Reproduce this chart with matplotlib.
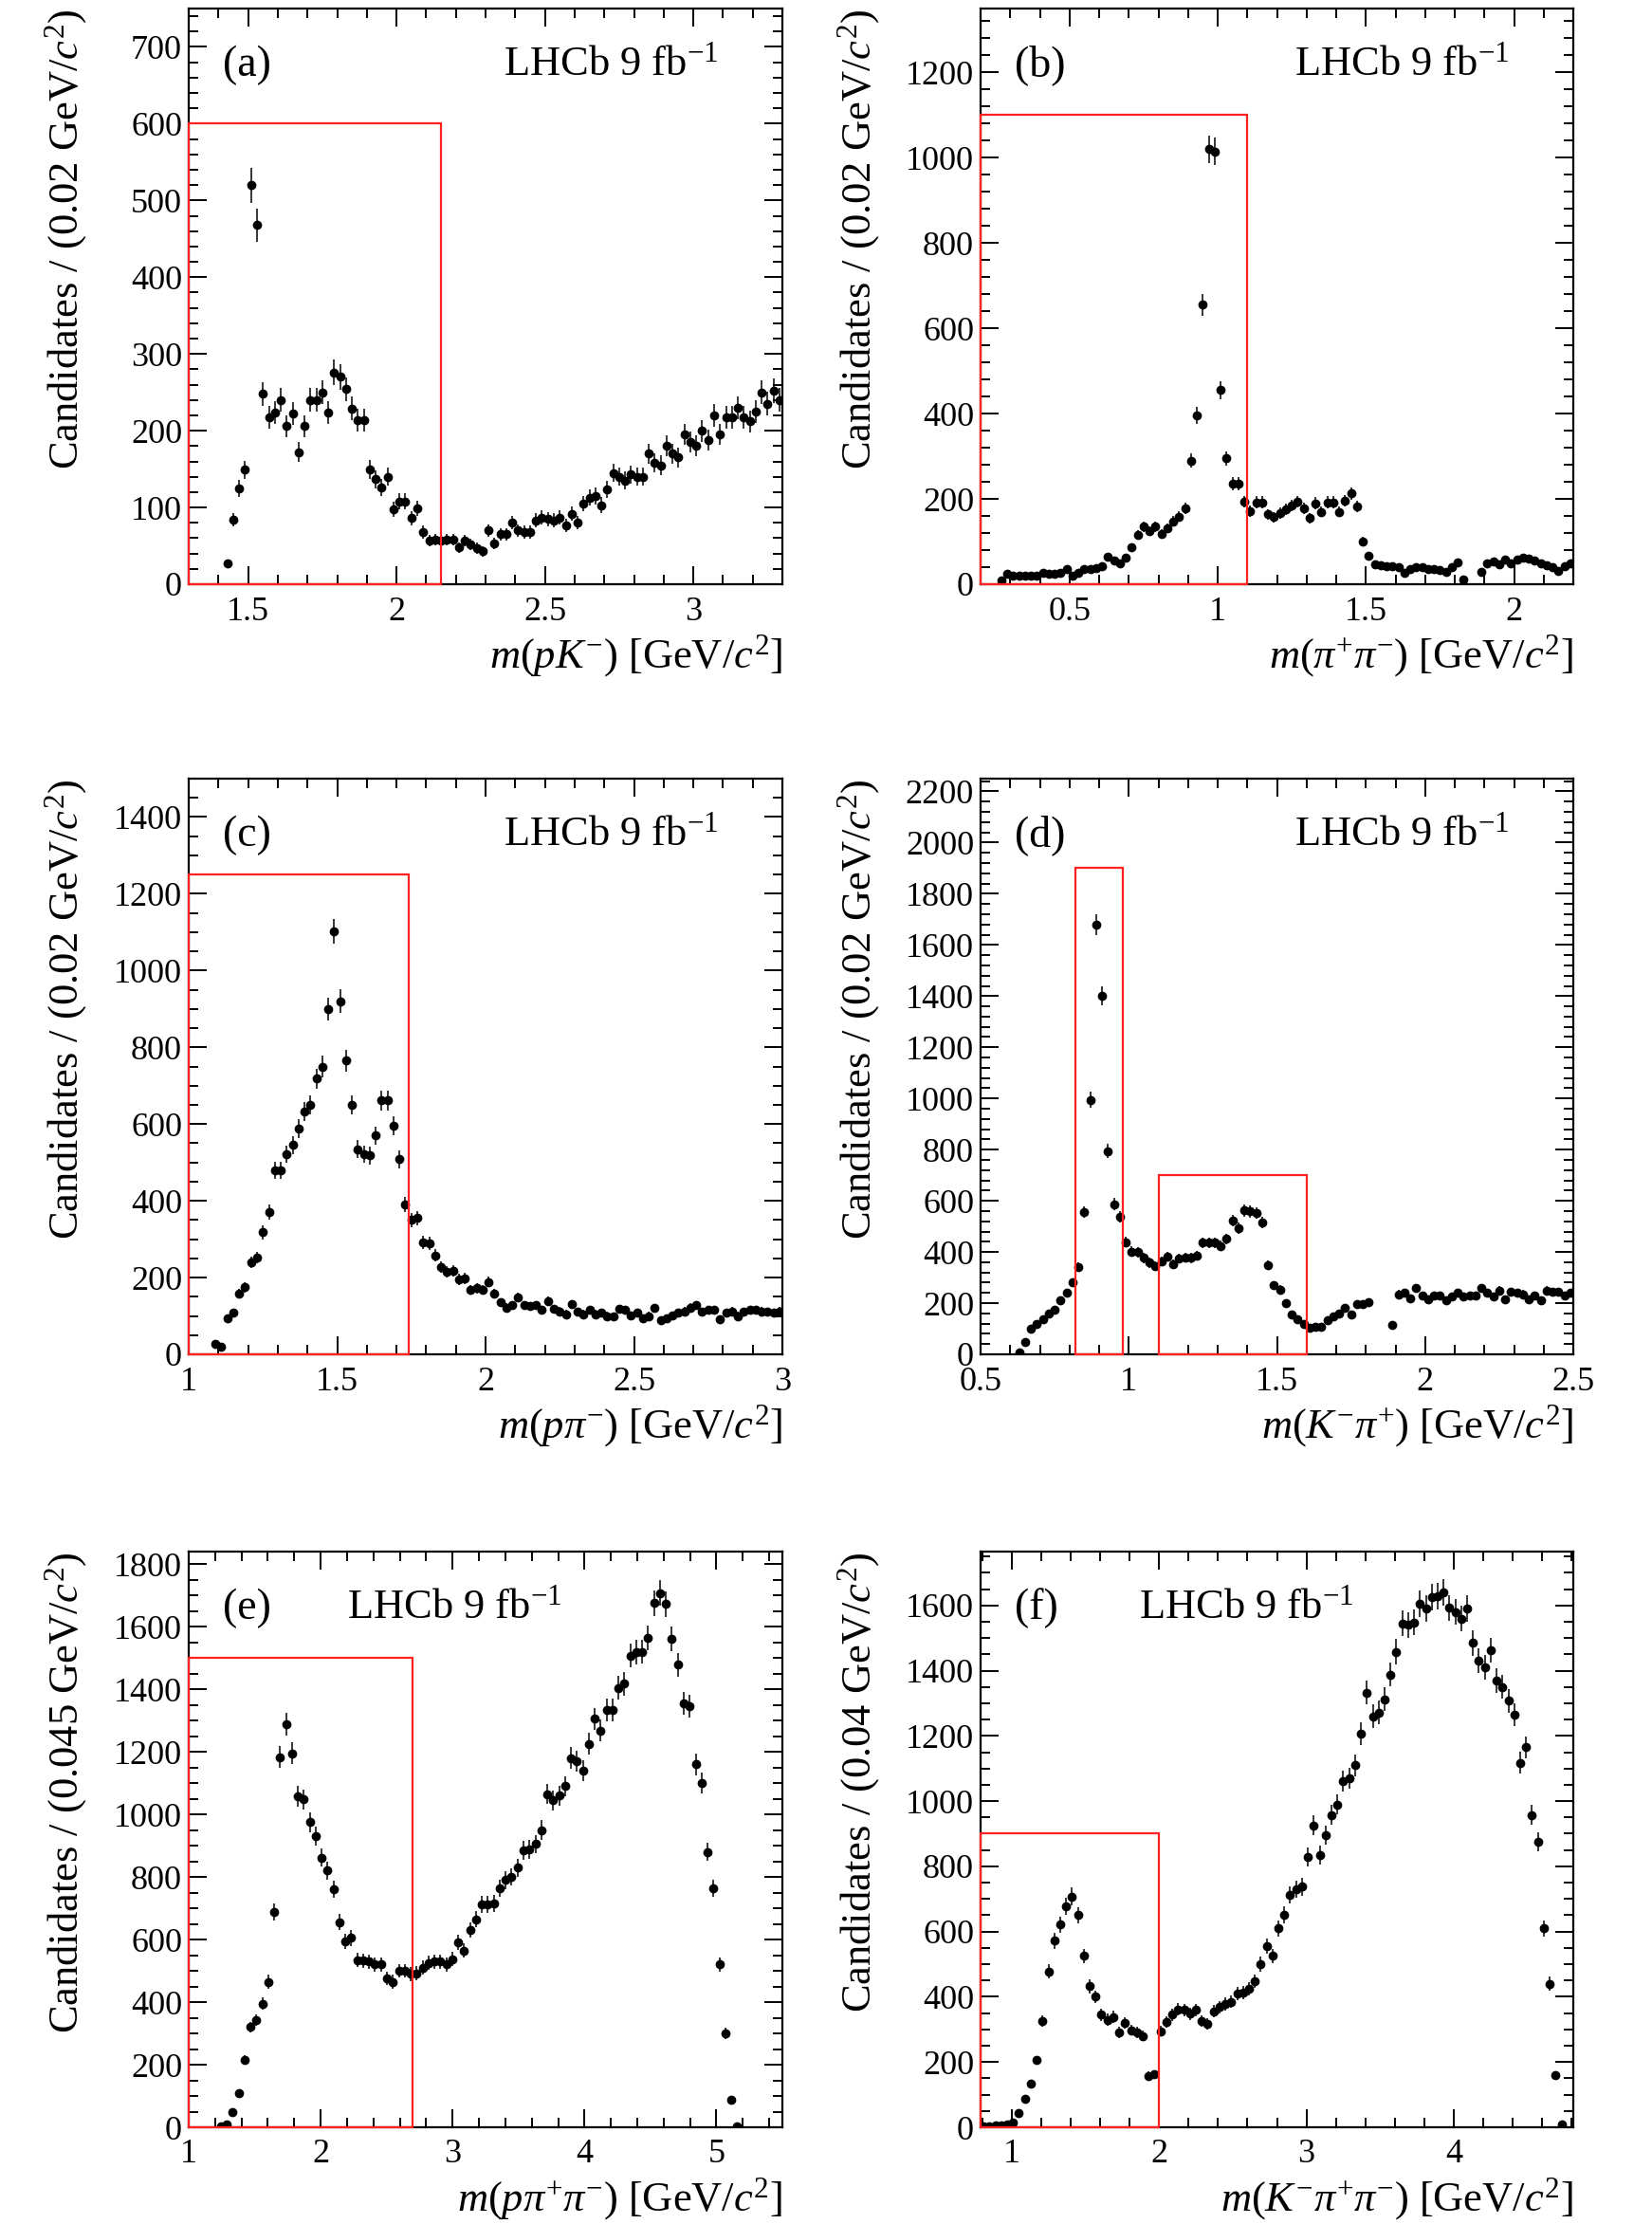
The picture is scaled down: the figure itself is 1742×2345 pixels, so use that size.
import numpy as np
import matplotlib
matplotlib.use('Agg')
import matplotlib.pyplot as plt
from matplotlib.patches import Rectangle
from matplotlib.ticker import MultipleLocator, FuncFormatter

plt.rcParams['font.family'] = ['Liberation Serif', 'DejaVu Serif']
plt.rcParams['mathtext.fontset'] = 'custom'
plt.rcParams['mathtext.rm'] = 'Liberation Serif'
plt.rcParams['mathtext.it'] = 'Liberation Serif:italic'
plt.rcParams['mathtext.bf'] = 'Liberation Serif:bold'

nan = np.nan

# ---------------- data ----------------
# (a) m(pK-)
a_start, a_width = 1.43, 0.02
a_counts = [27, 84, 125, 149, 520, 468, 248, 217, 224, 240,
            206, 222, 172, 206, 240, 240, 250, 224, 276, 270,
            254, 229, 214, 214, 150, 137, 126, 140, 98, 108,
            108, 86, 99, 68, 57, 58, 57, 58, 58, 48,
            57, 52, 47, 43, 70, 53, 65, 65, 80, 70,
            68, 68, 83, 87, 85, 83, 87, 77, 92, 80,
            105, 113, 115, 103, 123, 145, 140, 135, 143, 140,
            140, 170, 158, 155, 180, 170, 165, 195, 185, 180,
            200, 188, 220, 195, 218, 218, 230, 218, 212, 225,
            250, 235, 252, 240]

# (b) m(pi+pi-)
b_start, b_width = 0.27, 0.02
b_counts = [9, 24, 19, 19, 20, 20, 21, 27, 24, 25,
            27, 35, 20, 27, 35, 36, 38, 42, 64, 56,
            48, 63, 87, 115, 135, 124, 135, 118, 131, 147,
            159, 179, 290, 395, 655, 1020, 1015, 455, 295, 235,
            235, 194, 172, 192, 192, 164, 157, 167, 176, 184,
            194, 179, 155, 190, 170, 192, 192, 170, 196, 213,
            183, 101, 67, 46, 44, 42, 42, 39, 26, 35,
            39, 39, 36, 35, 33, 29, 39, 51, 11, nan,
            nan, 29, 50, 53, 46, 57, 50, 57, 63, 59,
            56, 50, 44, 41, 31, 42, 48]

# (c) m(p pi-)
c_start, c_width = 1.09, 0.02
c_counts = [28, 20, 95, 108, 158, 175, 240, 252, 318, 370,
            480, 480, 522, 545, 588, 632, 650, 718, 750, 900,
            1102, 920, 765, 650, 535, 522, 518, 570, 662, 662,
            595, 508, 390, 350, 355, 292, 290, 258, 228, 215,
            218, 195, 198, 168, 172, 168, 188, 158, 135, 122,
            128, 148, 128, 125, 128, 115, 138, 118, 112, 105,
            130, 110, 105, 115, 105, 108, 100, 98, 118, 115,
            102, 108, 95, 100, 120, 88, 95, 102, 108, 112,
            122, 128, 110, 115, 115, 92, 108, 112, 100, 110,
            115, 115, 112, 110, 108, 112]

# (d) m(K- pi+)
d_start, d_width = 0.63, 0.02
d_counts = [9, 47, 99, 117, 138, 158, 175, 211, 241, 280,
            340, 556, 995, 1680, 1400, 794, 586, 537, 438, 401,
            399, 377, 358, 346, 364, 381, 352, 374, 379, 377,
            385, 436, 436, 436, 423, 451, 522, 493, 562, 559,
            552, 516, 349, 270, 253, 199, 154, 136, 120, 105,
            107, 109, 135, 148, 160, 181, 154, 198, 198, 205,
            nan, nan, nan, 115, 235, 240, 220, 260, 230, 215,
            230, 230, 210, 225, 240, 225, 230, 230, 260, 240,
            225, 250, 215, 245, 240, 235, 215, 230, 210, 250,
            245, 245, 230, 240]

# (e) m(p pi+ pi-)
e_start, e_width = 1.2425, 0.045
e_counts = [3, 8, 48, 110, 215, 320, 342, 395, 465, 688,
            1183, 1288, 1195, 1058, 1048, 975, 930, 862, 820, 760,
            655, 595, 605, 535, 532, 530, 520, 520, 475, 465,
            500, 500, 490, 492, 510, 525, 530, 530, 520, 538,
            592, 565, 630, 665, 712, 712, 715, 765, 790, 800,
            830, 885, 888, 905, 950, 1065, 1045, 1060, 1090, 1180,
            1170, 1140, 1225, 1305, 1268, 1335, 1335, 1405, 1418, 1508,
            1518, 1520, 1565, 1675, 1708, 1672, 1560, 1478, 1355, 1345,
            1160, 1100, 880, 765, 520, 300, 88, 2]

# (f) m(K- pi+ pi-)
f_start, f_width = 0.81, 0.04
f_counts = [2, 2, 5, 5, 10, 15, 45, 88, 135, 205,
            325, 478, 572, 622, 678, 708, 650, 525, 432, 400,
            345, 330, 338, 290, 320, 298, 290, 280, 158, 162,
            295, 322, 345, 362, 360, 348, 360, 325, 318, 355,
            368, 378, 385, 410, 412, 425, 448, 500, 555, 525,
            610, 652, 712, 730, 738, 828, 925, 835, 895, 958,
            990, 1062, 1070, 1110, 1208, 1332, 1260, 1272, 1312, 1388,
            1458, 1545, 1540, 1548, 1605, 1590, 1625, 1628, 1640, 1592,
            1580, 1560, 1590, 1485, 1430, 1410, 1462, 1370, 1350, 1308,
            1265, 1118, 1165, 958, 875, 610, 440, 160, 8]

panel_tags = ['(a)', '(b)', '(c)', '(d)', '(e)', '(f)']
x_titles = [r'$m(pK^{-})$ [GeV/$c^{2}$]',
            r'$m(\pi^{+}\pi^{-})$ [GeV/$c^{2}$]',
            r'$m(p\pi^{-})$ [GeV/$c^{2}$]',
            r'$m(K^{-}\pi^{+})$ [GeV/$c^{2}$]',
            r'$m(p\pi^{+}\pi^{-})$ [GeV/$c^{2}$]',
            r'$m(K^{-}\pi^{+}\pi^{-})$ [GeV/$c^{2}$]']
y_titles = [r'Candidates / (0.02 GeV/$c^{2}$)',
            r'Candidates / (0.02 GeV/$c^{2}$)',
            r'Candidates / (0.02 GeV/$c^{2}$)',
            r'Candidates / (0.02 GeV/$c^{2}$)',
            r'Candidates / (0.045 GeV/$c^{2}$)',
            r'Candidates / (0.04 GeV/$c^{2}$)']
x_ranges = [(1.3, 3.3), (0.2, 2.2), (1.0, 3.0), (0.5, 2.5), (1.0, 5.5), (0.79, 4.81)]
y_ranges = [(0, 750), (0, 1350), (0, 1500), (0, 2250), (0, 1840), (0, 1765)]
x_major = [0.5, 0.5, 0.5, 0.5, 1.0, 1.0]
x_minor = [0.1, 0.1, 0.1, 0.1, 0.2, 0.2]
y_major = [100, 200, 200, 200, 200, 200]
y_minor = [20, 40, 50, 40, 50, 50]
# selection boxes (x0, x1, ytop)
boxes = [[(1.3, 2.15, 600)],
         [(0.2, 1.1, 1100)],
         [(1.0, 1.74, 1250)],
         [(0.82, 0.98, 1900), (1.1, 1.6, 700)],
         [(1.0, 2.7, 1500)],
         [(0.79, 2.0, 900)]]
lumi_text = r'LHCb 9 fb$^{-1}$'

datasets = [(a_start, a_width, a_counts), (b_start, b_width, b_counts),
            (c_start, c_width, c_counts), (d_start, d_width, d_counts),
            (e_start, e_width, e_counts), (f_start, f_width, f_counts)]

# ---------------- layout ----------------
W, H = 1742, 2345
fig = plt.figure(figsize=(W / 100, H / 100), dpi=100)
cols = [(199, 825), (1034, 1659)]
rows = [(9, 616), (821, 1428), (1636, 2243)]

fmt = FuncFormatter(lambda v, p: f'{v:g}')

for i in range(6):
    r, c = divmod(i, 2)
    (xl, xr), (yt, yb) = cols[c], rows[r]
    ax = fig.add_axes([xl / W, 1 - yb / H, (xr - xl) / W, (yb - yt) / H])
    start, width, counts = datasets[i]
    y = np.array(counts, dtype=float)
    x = start + width * np.arange(len(y))
    err = np.sqrt(y)
    ax.errorbar(x, y, yerr=err, fmt='o', ms=6.0, color='black',
                ecolor='black', elinewidth=1.1, capsize=0, zorder=3)
    ax.set_xlim(*x_ranges[i])
    ax.set_ylim(*y_ranges[i])
    for (x0, x1, ytop) in boxes[i]:
        ax.add_patch(Rectangle((x0, 0), x1 - x0, ytop, fill=False,
                               ec='#ff2020', lw=1.6, clip_on=False, zorder=6))
    ax.xaxis.set_major_locator(MultipleLocator(x_major[i]))
    ax.xaxis.set_minor_locator(MultipleLocator(x_minor[i]))
    ax.yaxis.set_major_locator(MultipleLocator(y_major[i]))
    ax.yaxis.set_minor_locator(MultipleLocator(y_minor[i]))
    ax.xaxis.set_major_formatter(fmt)
    ax.yaxis.set_major_formatter(fmt)
    ax.tick_params(which='both', direction='in', top=True, right=True,
                   width=1.4, labelsize=26)
    ax.tick_params(which='major', length=13.5)
    ax.tick_params(which='minor', length=7)
    ax.tick_params(axis='x', which='major', pad=9)
    ax.tick_params(axis='y', which='major', pad=5)
    for s in ax.spines.values():
        s.set_linewidth(1.6)

    ax.set_xlabel(x_titles[i], fontsize=32, loc='right')
    ax.xaxis.label.set_va('center')
    ax.xaxis.set_label_coords(1.0, -0.125)
    ax.set_ylabel(y_titles[i], fontsize=32, loc='top')
    ax.yaxis.label.set_rotation_mode('default')
    ax.yaxis.label.set_ha('center')
    ax.yaxis.label.set_va('top')
    ax.yaxis.set_label_coords(-0.206, 1.0)

    ax.text(0.057, 0.902, panel_tags[i], transform=ax.transAxes,
            fontsize=33, ha='left', va='center')
    lx = 0.53 if i < 4 else 0.267
    ax.text(lx, 0.902, lumi_text, transform=ax.transAxes,
            fontsize=32, ha='left', va='center')

fig.savefig('out.png', dpi=100)
